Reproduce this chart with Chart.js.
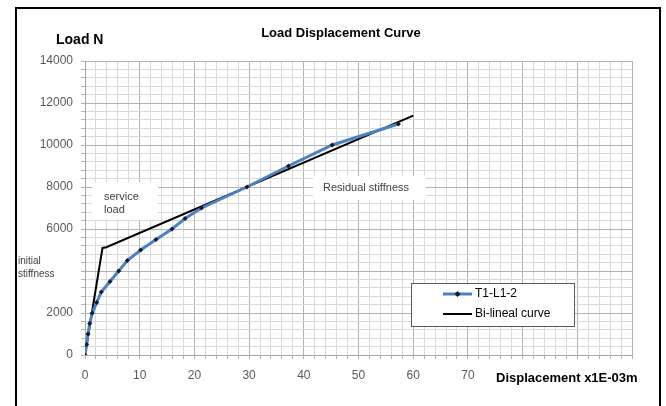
<!DOCTYPE html>
<html>
<head>
<meta charset="utf-8">
<script src="https://cdn.jsdelivr.net/npm/chart.js@4"></script>
<style>
html,body{margin:0;padding:0;background:#fff;}
#c{display:block;}
</style>
</head>
<body>
<canvas id="c" width="666" height="406"></canvas>
<script>
// ---- data ----
const testDisp = [0, 0.3, 0.55, 0.86, 1.33, 2.14, 2.98, 4.57, 6.16, 7.73, 10.18, 12.98, 15.9, 18.3, 21.3, 29.6, 37.2, 45.2, 57.3];
const testLoad = [0, 500, 1000, 1500, 2000, 2500, 3000, 3500, 4000, 4500, 5000, 5500, 6000, 6500, 7000, 8000, 9000, 10000, 11000];
const biDisp = [0, 3.2, 3.9, 60];
const biLoad = [0, 5100, 5130, 11400];
const seriesNames = ["T1-L1-2", "Bi-lineal curve"];
const xLabelTicks = [0, 10, 20, 30, 40, 50, 60, 70];
const yLabelTicks = [0, 2000, 4000, 6000, 8000, 10000, 12000, 14000];
const titleText = "Load Displacement Curve";
const yTitle = "Load N";
const xTitle = "Displacement x1E-03m";
const notes = [
  {lines: ["service", "load"]},
  {lines: ["Residual stiffness"]},
  {lines: ["initial", "stiffness"]}
];

const BLUE = "#4F81BD";
const toPts = (xs, ys) => xs.map((x, i) => ({x: x, y: ys[i]}));

const decor = {
  id: "decor",
  beforeDraw(chart) {
    const c = chart.ctx;
    c.save();
    c.fillStyle = "#fff";
    c.fillRect(0, 0, chart.width, chart.height);
    c.restore();
  },
  beforeDatasetsDraw(chart) {
    const c = chart.ctx;
    c.save();
    // annotation boxes
    c.fillStyle = "#fff";
    c.fillRect(92, 182, 66, 38);
    c.fillRect(313, 176, 113, 24);
    c.fillStyle = "#404040";
    c.font = "11px 'Liberation Sans', Arial, sans-serif";
    c.textBaseline = "middle";
    c.textAlign = "left";
    c.fillText(notes[0].lines[0], 104, 197);
    c.fillText(notes[0].lines[1], 104, 210);
    c.fillText(notes[1].lines[0], 323, 188);
    c.restore();
  },
  afterDraw(chart) {
    const c = chart.ctx;
    c.save();
    // titles
    c.fillStyle = "#000";
    c.textBaseline = "middle";
    c.textAlign = "center";
    c.font = "bold 13px 'Liberation Sans', Arial, sans-serif";
    c.fillText(titleText, 341, 33);
    c.textAlign = "left";
    c.font = "bold 14px 'Liberation Sans', Arial, sans-serif";
    c.fillText(yTitle, 56, 40);
    c.font = "bold 13px 'Liberation Sans', Arial, sans-serif";
    c.fillText(xTitle, 496, 378);
    // initial stiffness note (white box covers the tick label behind it)
    c.fillStyle = "#fff";
    c.fillRect(17, 252, 62, 32);
    c.fillStyle = "#404040";
    c.font = "10px 'Liberation Sans', Arial, sans-serif";
    c.fillText(notes[2].lines[0], 18, 261);
    c.fillText(notes[2].lines[1], 18, 274);
    // legend
    c.fillStyle = "#fff";
    c.fillRect(411.5, 283.5, 163, 43);
    c.strokeStyle = "#595959";
    c.lineWidth = 1;
    c.strokeRect(411.5, 283.5, 163, 43);
    c.lineWidth = 3;
    c.strokeStyle = BLUE;
    c.beginPath(); c.moveTo(443, 294); c.lineTo(472, 294); c.stroke();
    c.fillStyle = "#1a1a2e";
    c.beginPath(); c.moveTo(457.5, 291); c.lineTo(460.5, 294); c.lineTo(457.5, 297); c.lineTo(454.5, 294); c.closePath(); c.fill();
    c.lineWidth = 2;
    c.strokeStyle = "#000";
    c.beginPath(); c.moveTo(443, 314); c.lineTo(472, 314); c.stroke();
    c.fillStyle = "#000";
    c.font = "12px 'Liberation Sans', Arial, sans-serif";
    c.fillText(seriesNames[0], 475, 294);
    c.fillText(seriesNames[1], 475, 314);
    // outer frame
    c.strokeStyle = "#000";
    c.lineWidth = 2;
    c.beginPath();
    c.moveTo(16, 420); c.lineTo(16, 8); c.lineTo(660, 8); c.lineTo(660, 420);
    c.stroke();
    c.restore();
  }
};

new Chart(document.getElementById("c"), {
  type: "scatter",
  data: {
    datasets: [
      {
        label: seriesNames[0],
        data: toPts(testDisp, testLoad),
        showLine: true,
        borderColor: BLUE,
        borderWidth: 3,
        pointStyle: "rectRot",
        pointRadius: 2.5,
        pointBackgroundColor: "#1a1a2e",
        pointBorderColor: "#1a1a2e",
        pointBorderWidth: 0,
        tension: 0,
        order: 0
      },
      {
        label: seriesNames[1],
        data: toPts(biDisp, biLoad),
        showLine: true,
        borderColor: "#000",
        borderWidth: 2,
        pointRadius: 0,
        tension: 0,
        order: 1
      }
    ]
  },
  options: {
    responsive: false,
    animation: false,
    layout: {padding: {left: 0, top: 61, right: 34, bottom: 0}},
    plugins: {legend: {display: false}, title: {display: false}, tooltip: {enabled: false}},
    scales: {
      x: {
        type: "linear",
        min: 0, max: 100,
        afterFit(s) { s.height = 51; },
        afterBuildTicks(s) { const t = []; for (let v = 0; v <= 100; v += 2) t.push({value: v}); s.ticks = t; },
        ticks: {
          autoSkip: false, maxRotation: 0, padding: 9,
          color: "#595959",
          font: {family: "'Liberation Sans', Arial, sans-serif", size: 12},
          callback: (v) => xLabelTicks.includes(v) ? String(v) : ""
        },
        grid: {
          color: (ctx) => (ctx.tick && ctx.tick.value % 10 === 0) ? "#b3b3b3" : "#d9d9d9",
          tickLength: 4,
          tickColor: "#b3b3b3",
          lineWidth: 1
        },
        border: {color: "#a6a6a6"}
      },
      y: {
        type: "linear",
        min: 0, max: 14000,
        afterFit(s) { s.width = 85; },
        afterBuildTicks(s) { const t = []; for (let v = 0; v <= 14000; v += 400) t.push({value: v}); s.ticks = t; },
        ticks: {
          autoSkip: false, padding: 8,
          color: "#595959",
          font: {family: "'Liberation Sans', Arial, sans-serif", size: 12},
          callback: (v) => yLabelTicks.includes(v) ? String(v) : ""
        },
        grid: {
          color: (ctx) => (ctx.tick && ctx.tick.value % 2000 === 0) ? "#b3b3b3" : "#d9d9d9",
          tickLength: 4,
          tickColor: "#b3b3b3",
          lineWidth: 1
        },
        border: {color: "#a6a6a6"}
      }
    }
  },
  plugins: [decor]
});
</script>
</body>
</html>
